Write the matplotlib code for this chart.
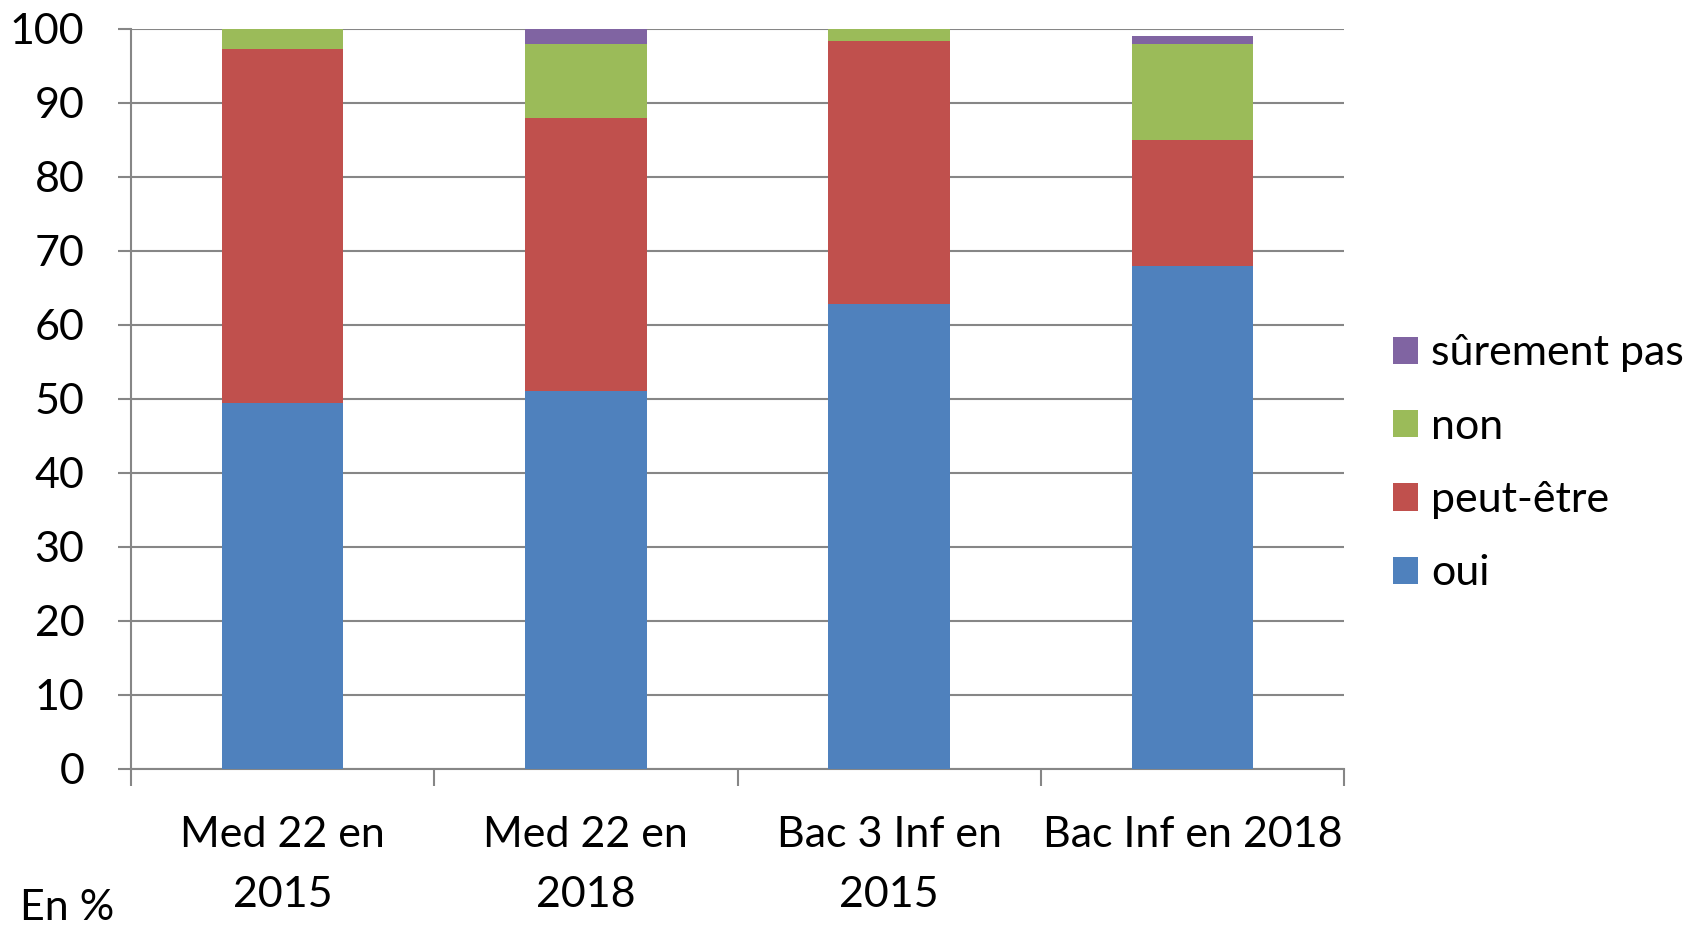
import matplotlib.pyplot as plt
import numpy as np

plt.rcParams['font.family'] = ['Lato', 'DejaVu Sans']

# Données (en %)
categories = ["Med 22 en\n2015", "Med 22 en\n2018", "Bac 3 Inf en\n2015", "Bac Inf en 2018"]
oui = [49.4, 51.1, 62.8, 68.0]
peut_etre = [47.9, 36.8, 35.6, 17.0]
non = [2.7, 10.1, 1.6, 13.0]
surement_pas = [0.0, 2.0, 0.0, 1.0]

series = [("oui", oui, "#4f81bd"),
          ("peut-être", peut_etre, "#c0504d"),
          ("non", non, "#9bbb59"),
          ("sûrement pas", surement_pas, "#8064a2")]

fs = 31
gris = "#868686"

fig = plt.figure(figsize=(17.04, 9.26), dpi=100)
ax = fig.add_axes([131 / 1704, 1 - 768.7 / 926, (1344 - 131) / 1704, 740 / 926])

x = np.arange(len(categories))
bottom = np.zeros(len(categories))
handles = []
for nom, vals, col in series:
    b = ax.bar(x, vals, width=0.4, bottom=bottom, color=col, label=nom, zorder=3)
    handles.append(b)
    bottom += np.array(vals)

ax.set_xlim(-0.5, 3.5)
ax.set_ylim(0, 100)
ax.set_yticks(range(0, 101, 10))
ax.tick_params(axis='y', labelsize=fs, length=9.5, width=1.5, color=gris, pad=24)
ax.yaxis.grid(True, color=gris, linewidth=1.5, zorder=0)

ax.set_xticks(x)
ax.set_xticklabels(categories, fontsize=fs, linespacing=1.7)
ax.tick_params(axis='x', length=0, pad=34)
ax.set_xticks(np.arange(-0.5, 4.0, 1), minor=True)
ax.tick_params(axis='x', which='minor', length=12, width=1.5, color=gris)

for s in ["top", "right"]:
    ax.spines[s].set_visible(False)
ax.spines["left"].set_color(gris)
ax.spines["left"].set_linewidth(1.5)
ax.spines["bottom"].set_color(gris)
ax.spines["bottom"].set_linewidth(1.5)

ax.legend(handles[::-1], [s[0] for s in series][::-1], loc="center left",
          bbox_to_anchor=(1.04, 0.4125), frameon=False, fontsize=fs,
          handlelength=0.6, handleheight=0.6, handletextpad=0.3, labelspacing=0.82,
          borderaxespad=0, borderpad=0)

fig.text(20 / 1704, 1 - 908 / 926, "En %", fontsize=fs, ha="left", va="center")

fig.savefig("out.png", dpi=100)
